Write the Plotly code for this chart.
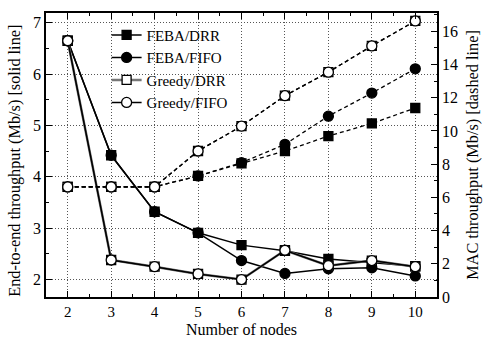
import plotly.graph_objects as go

nodes = [2, 3, 4, 5, 6, 7, 8, 9, 10]

# End-to-end throughput (left axis, solid lines)
feba_drr_e2e = [6.65, 4.42, 3.32, 2.91, 2.67, 2.56, 2.40, 2.33, 2.26]
feba_fifo_e2e = [6.65, 4.42, 3.32, 2.91, 2.37, 2.12, 2.21, 2.23, 2.07]
greedy_drr_e2e = [6.65, 2.38, 2.25, 2.11, 2.00, 2.57, 2.27, 2.37, 2.25]
greedy_fifo_e2e = [6.65, 2.38, 2.25, 2.11, 2.00, 2.57, 2.27, 2.37, 2.25]

# MAC throughput (right axis, dashed lines)
feba_drr_mac = [6.63, 6.63, 6.63, 7.29, 8.05, 8.79, 9.69, 10.45, 11.38]
feba_fifo_mac = [6.63, 6.63, 6.63, 7.29, 8.09, 9.19, 10.89, 12.28, 13.74]
greedy_drr_mac = [6.63, 6.63, 6.63, 8.79, 10.29, 12.12, 13.54, 15.12, 16.62]
greedy_fifo_mac = [6.63, 6.63, 6.63, 8.79, 10.29, 12.12, 13.54, 15.12, 16.62]

series = [
    ("FEBA/DRR", feba_drr_e2e, feba_drr_mac, "square", "black", "black"),
    ("FEBA/FIFO", feba_fifo_e2e, feba_fifo_mac, "circle", "black", "black"),
    ("Greedy/DRR", greedy_drr_e2e, greedy_drr_mac, "square", "white", "#777777"),
    ("Greedy/FIFO", greedy_fifo_e2e, greedy_fifo_mac, "circle", "white", "black"),
]

FONT = "Liberation Serif, Times New Roman, serif"
fig = go.Figure()

for name, e2e, mac, sym, fill, lcol in series:
    size = 9 if sym == "square" else 10
    fig.add_trace(go.Scatter(
        x=nodes, y=mac, yaxis="y2", mode="lines+markers", showlegend=False,
        line=dict(color="black", width=1.3, dash="4px,3px"),
        marker=dict(symbol=sym, size=size, color=fill, line=dict(color="black", width=1.3)),
    ))

for name, e2e, mac, sym, fill, lcol in series:
    size = 9 if sym == "square" else 10
    fig.add_trace(go.Scatter(
        x=nodes, y=e2e, yaxis="y", mode="lines+markers", name=name,
        line=dict(color=lcol, width=1.5 if lcol == "black" else 2.5),
        marker=dict(symbol=sym, size=size, color=fill, line=dict(color="black", width=1.3)),
    ))

grid = dict(showgrid=True, gridcolor="#555555", griddash="1px,2px", gridwidth=1)

fig.update_layout(
    width=484, height=337,
    margin=dict(l=46, r=47, t=13, b=40, autoexpand=False),
    paper_bgcolor="white", plot_bgcolor="white",
    font=dict(family=FONT, size=16, color="black"),
    showlegend=True,
    legend=dict(x=0.155, y=0.98, xanchor="left", yanchor="top",
                bgcolor="rgba(0,0,0,0)", font=dict(size=15, family=FONT),
                tracegroupgap=0, itemwidth=30),
    xaxis=dict(
        range=[1.5, 10.5], tickmode="array", tickvals=nodes, automargin=False,
        ticks="inside", ticklen=6, tickcolor="black", tickfont=dict(size=15),
        ticklabelstandoff=0,
        minor=dict(dtick=0.5, tick0=0, ticks="inside", ticklen=3, tickcolor="black", showgrid=False),
        showline=True, linecolor="black", linewidth=1.5, mirror="ticks",
        zeroline=False, **grid,
    ),
    yaxis=dict(
        range=[1.66, 7.19], tickmode="array", tickvals=[2, 3, 4, 5, 6, 7], automargin=False,
        ticks="inside", ticklen=6, tickcolor="black",
        minor=dict(dtick=0.5, tick0=0, ticks="inside", ticklen=3, tickcolor="black", showgrid=False),
        showline=True, linecolor="black", linewidth=1.5,
        zeroline=False, **grid,
    ),
    yaxis2=dict(
        range=[0, 17.1], overlaying="y", side="right", automargin=False,
        tickmode="array", tickvals=[0, 2, 4, 6, 8, 10, 12, 14, 16],
        ticks="inside", ticklen=6, tickcolor="black",
        minor=dict(dtick=1, tick0=0, ticks="inside", ticklen=3, tickcolor="black", showgrid=False),
        showline=True, linecolor="black", linewidth=1.5,
        showgrid=False, zeroline=False,
    ),
    annotations=[
        dict(text="Number of nodes", xref="paper", yref="paper", x=0.5, y=-0.115,
             xanchor="center", yanchor="middle", showarrow=False, font=dict(size=16)),
        dict(text="End-to-end throughput (Mb/s) [solid line]", xref="paper", yref="paper",
             x=-0.079, y=0.48, xanchor="center", yanchor="middle", textangle=-90,
             showarrow=False, font=dict(size=16.3)),
        dict(text="MAC throughput (Mb/s) [dashed line]", xref="paper", yref="paper",
             x=1.089, y=0.5, xanchor="center", yanchor="middle", textangle=-90,
             showarrow=False, font=dict(size=16.3)),
    ],
)

fig.write_html("out.html")
